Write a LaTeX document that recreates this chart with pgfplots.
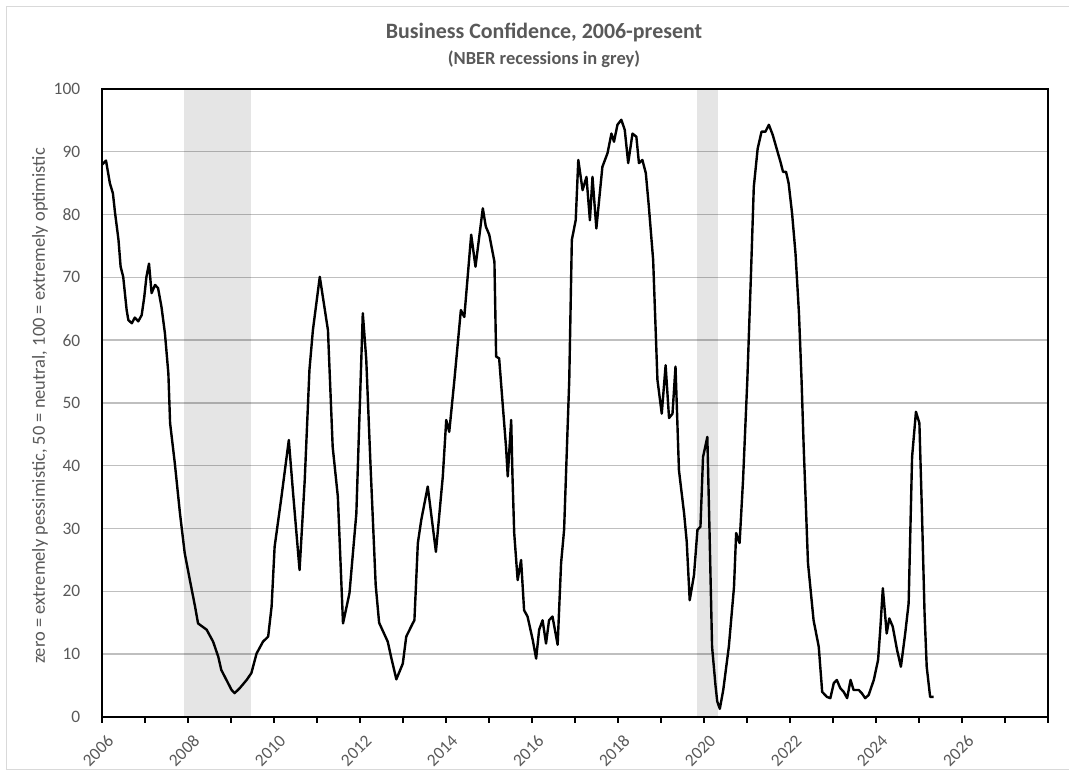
\documentclass[border=0pt]{standalone}
\usepackage{fontspec}
\setmainfont{Carlito}
\usepackage{pgfplots}
\usepackage{pgfplotstable}
\pgfplotsset{compat=1.18}
\definecolor{txt}{HTML}{595959}
\definecolor{gridc}{HTML}{BFBFBF}
\definecolor{framec}{HTML}{D9D9D9}

\pgfplotstableread{
x y
2006.00 87.9
2006.10 88.6
2006.19 85.0
2006.26 83.4
2006.31 80.3
2006.39 76.0
2006.44 71.7
2006.50 70.1
2006.58 64.8
2006.62 63.2
2006.70 62.7
2006.77 63.6
2006.85 63.0
2006.93 64.0
2006.99 66.9
2007.04 70.1
2007.10 72.2
2007.16 67.5
2007.24 68.8
2007.31 68.3
2007.39 65.3
2007.47 61.1
2007.55 54.7
2007.59 46.8
2007.70 40.4
2007.82 32.4
2007.93 26.1
2008.05 21.8
2008.17 17.6
2008.24 14.9
2008.44 13.9
2008.59 12.0
2008.71 9.6
2008.78 7.5
2008.90 5.9
2009.02 4.3
2009.09 3.8
2009.21 4.6
2009.37 5.9
2009.48 7.0
2009.60 10.1
2009.75 12.0
2009.87 12.8
2009.95 17.6
2010.02 27.1
2010.18 35.1
2010.35 44.1
2010.45 35.6
2010.60 23.4
2010.72 37.7
2010.83 55.3
2010.91 61.6
2011.07 70.1
2011.26 61.6
2011.37 43.0
2011.49 35.1
2011.61 14.9
2011.76 19.7
2011.92 32.4
2012.02 53.7
2012.07 64.3
2012.15 57.0
2012.25 40.0
2012.37 21.0
2012.45 15.0
2012.55 13.5
2012.65 12.0
2012.73 9.5
2012.85 6.0
2013.00 8.5
2013.08 12.8
2013.23 14.9
2013.27 15.4
2013.35 27.7
2013.43 31.4
2013.58 36.7
2013.77 26.3
2013.93 38.3
2014.01 47.3
2014.08 45.4
2014.20 53.7
2014.35 64.8
2014.43 63.7
2014.59 76.8
2014.69 71.7
2014.86 81.0
2014.93 78.1
2015.01 76.8
2015.13 72.5
2015.17 57.4
2015.24 57.1
2015.32 50.0
2015.40 43.0
2015.44 38.3
2015.52 47.3
2015.55 38.3
2015.59 29.3
2015.67 21.8
2015.75 25.0
2015.82 17.0
2015.90 16.0
2016.02 12.3
2016.10 9.3
2016.17 13.9
2016.25 15.4
2016.33 11.7
2016.40 15.4
2016.48 16.0
2016.60 11.5
2016.68 24.5
2016.75 29.8
2016.87 53.7
2016.93 76.0
2017.02 79.1
2017.08 88.7
2017.18 83.9
2017.27 86.0
2017.35 79.1
2017.41 86.0
2017.50 77.8
2017.64 87.6
2017.76 89.8
2017.85 92.9
2017.91 91.6
2017.99 94.3
2018.08 95.1
2018.16 93.5
2018.24 88.2
2018.34 92.9
2018.43 92.4
2018.49 88.2
2018.57 88.7
2018.65 86.6
2018.72 81.3
2018.82 72.8
2018.92 53.7
2019.02 48.3
2019.11 56.0
2019.19 47.6
2019.27 48.3
2019.34 55.8
2019.42 39.3
2019.54 32.4
2019.60 28.0
2019.67 18.6
2019.77 22.6
2019.85 29.8
2019.92 30.3
2019.98 41.4
2020.08 44.6
2020.13 29.8
2020.19 11.2
2020.27 5.0
2020.31 2.5
2020.37 1.3
2020.45 4.3
2020.58 11.2
2020.70 20.7
2020.75 29.3
2020.83 27.7
2020.91 37.7
2021.01 53.7
2021.09 69.6
2021.16 84.4
2021.25 90.5
2021.34 93.2
2021.43 93.2
2021.51 94.3
2021.60 92.7
2021.70 90.3
2021.78 88.4
2021.84 86.8
2021.91 86.8
2021.97 85.0
2022.05 80.2
2022.13 73.8
2022.21 64.3
2022.27 53.7
2022.32 43.0
2022.42 24.5
2022.55 15.4
2022.67 11.2
2022.75 4.0
2022.86 3.2
2022.94 3.0
2023.02 5.4
2023.09 5.9
2023.17 4.6
2023.25 4.0
2023.33 3.0
2023.41 5.9
2023.48 4.3
2023.60 4.3
2023.67 3.8
2023.75 3.0
2023.83 3.5
2023.95 5.9
2024.05 9.1
2024.10 13.9
2024.16 20.5
2024.25 13.3
2024.31 15.7
2024.39 14.4
2024.49 10.7
2024.58 8.0
2024.68 13.3
2024.76 18.1
2024.84 41.4
2024.93 48.6
2025.01 46.8
2025.07 32.4
2025.13 16.5
2025.18 8.0
2025.26 3.2
2025.34 3.2
}\confdata

\begin{document}
\begin{tikzpicture}
\path[use as bounding box] (0,0) rectangle (1069bp,780bp);
\draw[framec, line width=1bp] (6bp,10bp) -- (6bp,773bp) -- (1069bp,773bp);
\draw[framec, line width=1bp] (6bp,10bp) -- (1069bp,10bp);
\node[font=\bfseries\fontsize{22}{24}\selectfont, text=txt] at (544bp,747bp) {Business Confidence, 2006-present};
\node[font=\bfseries\fontsize{18.5}{20}\selectfont, text=txt] at (544bp,721bp) {(NBER recessions in grey)};
\node[rotate=90, font=\fontsize{18.5}{20}\selectfont, text=txt] at (40bp,374bp) {zero = extremely pessimistic, 50 = neutral, 100 = extremely optimistic};
\begin{axis}[
  at={(101.7bp,63bp)}, anchor=south west,
  scale only axis, width=946.3bp, height=628bp,
  xmin=2006, xmax=2028, ymin=0, ymax=100,
  xtick={2006,2008,...,2026},
  minor xtick={2007,2009,...,2027,2028},
  xticklabels={2006,2008,2010,2012,2014,2016,2018,2020,2022,2024,2026},
  ytick={0,10,...,100},
  xtick pos=lower, ytick pos=left,
  ymajorgrids, major grid style={gridc, line width=1.4bp},
  axis line style={black, line width=2bp},
  tick align=outside,
  major tick length=6bp, minor tick length=6bp,
  xtick style={black, line width=1.6bp},
  minor x tick style={black, line width=1.6bp},
  ytick style={draw=none},
  tick label style={font=\fontsize{17.5}{20}\selectfont, text=txt},
  xticklabel style={rotate=45, anchor=east, yshift=-17bp, xshift=-1bp},
  yticklabel style={xshift=-12bp},
  /pgf/number format/assume math mode=true,
]
\addplot[draw=none, fill=black, fill opacity=0.10] coordinates {(2007.92,0) (2007.92,100) (2009.48,100) (2009.48,0)} -- cycle;
\addplot[draw=none, fill=black, fill opacity=0.10] coordinates {(2019.83,0) (2019.83,100) (2020.33,100) (2020.33,0)} -- cycle;
\addplot[black, line width=2.4bp, line join=round] table[x=x, y=y] {\confdata};
\end{axis}
\end{tikzpicture}
\end{document}
